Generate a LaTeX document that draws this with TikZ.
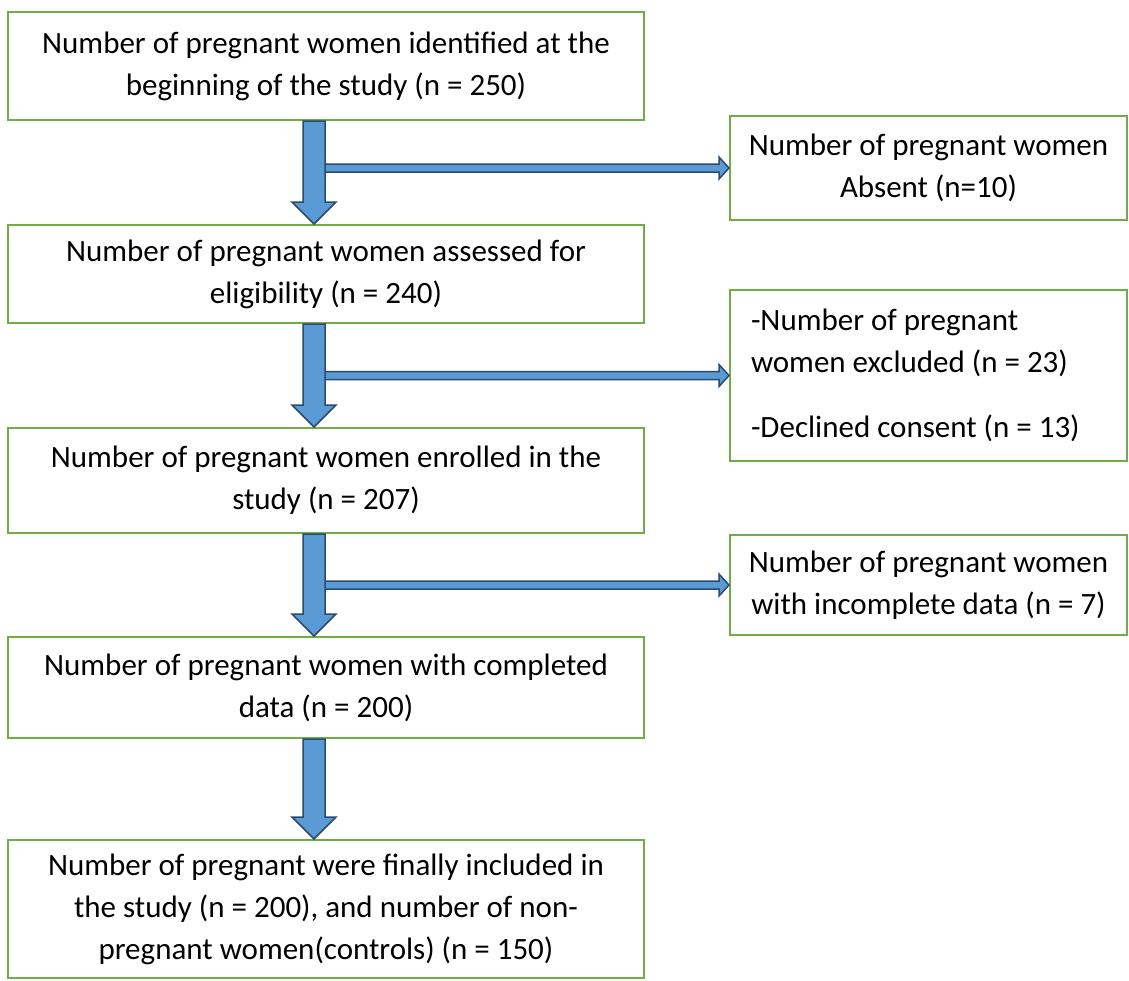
\documentclass[tikz,border=0pt]{standalone}
\usepackage{fontspec}
\setmainfont{Carlito}
\usetikzlibrary{positioning,calc}
\definecolor{boxgreen}{HTML}{70AD47}
\definecolor{arrowblue}{HTML}{5B9BD5}
\definecolor{arrowline}{HTML}{2B4A6F}
\begin{document}
\begin{tikzpicture}[x=1pt,y=-1pt,
    box/.style={draw=boxgreen,line width=2pt,align=center,inner sep=0pt,
      font=\fontsize{31}{42}\selectfont},
    mainbox/.style={box,minimum width=636pt},
    sidebox/.style={box,minimum width=397pt},
    barrow/.style={draw=arrowline,fill=arrowblue,line width=1.5pt,line join=miter}]
  \useasboundingbox (0,0) rectangle (1129,980);

  % left column
  \node[mainbox,minimum height=108pt] (n250) at (326,66)
    {Number of pregnant women identified at the\\beginning of the study (n = 250)};
  \node[mainbox,minimum height=98pt] (n240) at (326,274)
    {Number of pregnant women assessed for\\eligibility (n = 240)};
  \node[mainbox,minimum height=105pt] (n207) at (326,480.5)
    {Number of pregnant women enrolled in the\\study (n = 207)};
  \node[mainbox,minimum height=101pt] (n200) at (326,687.5)
    {Number of pregnant women with completed\\data (n = 200)};
  \node[mainbox,minimum height=138pt] (final) at (326,909)
    {Number of pregnant were finally included in\\the study (n = 200), and number of non-\\pregnant women(controls) (n = 150)};

  % right column
  \node[sidebox,minimum height=104pt] (absent) at (928.5,168)
    {Number of pregnant women\\Absent (n=10)};
  \node[sidebox,minimum height=171pt,align=flush left,text width=355pt,inner xsep=21pt] (excl) at (928.5,375.5)
    {-Number of pregnant\\women excluded (n = 23)\\[23pt]-Declined consent (n = 13)};
  \node[sidebox,minimum height=100pt] (incompl) at (928.5,585)
    {Number of pregnant women\\with incomplete data (n = 7)};

  % side arrows
  \foreach \b in {absent, excl, incompl} {
    \draw[barrow] ($(\b.west)+(-405,-4)$) -- ($(\b.west)+(-10,-4)$) -- ($(\b.west)+(-10,-11)$)
      -- (\b.west) -- ($(\b.west)+(-10,11)$) -- ($(\b.west)+(-10,4)$) -- ($(\b.west)+(-405,4)$) -- cycle;
  }

  % down arrows
  \foreach \a/\b in {n250/n240, n240/n207, n207/n200, n200/final} {
    \draw[barrow] ($(\a.south)+(-23,0)$) -- ($(\b.north)+(-23,-22)$) -- ($(\b.north)+(-34,-22)$)
      -- ($(\b.north)+(-12,0)$) -- ($(\b.north)+(10,-22)$) -- ($(\b.north)+(-1,-22)$)
      -- ($(\a.south)+(-1,0)$) -- cycle;
  }
\end{tikzpicture}
\end{document}
